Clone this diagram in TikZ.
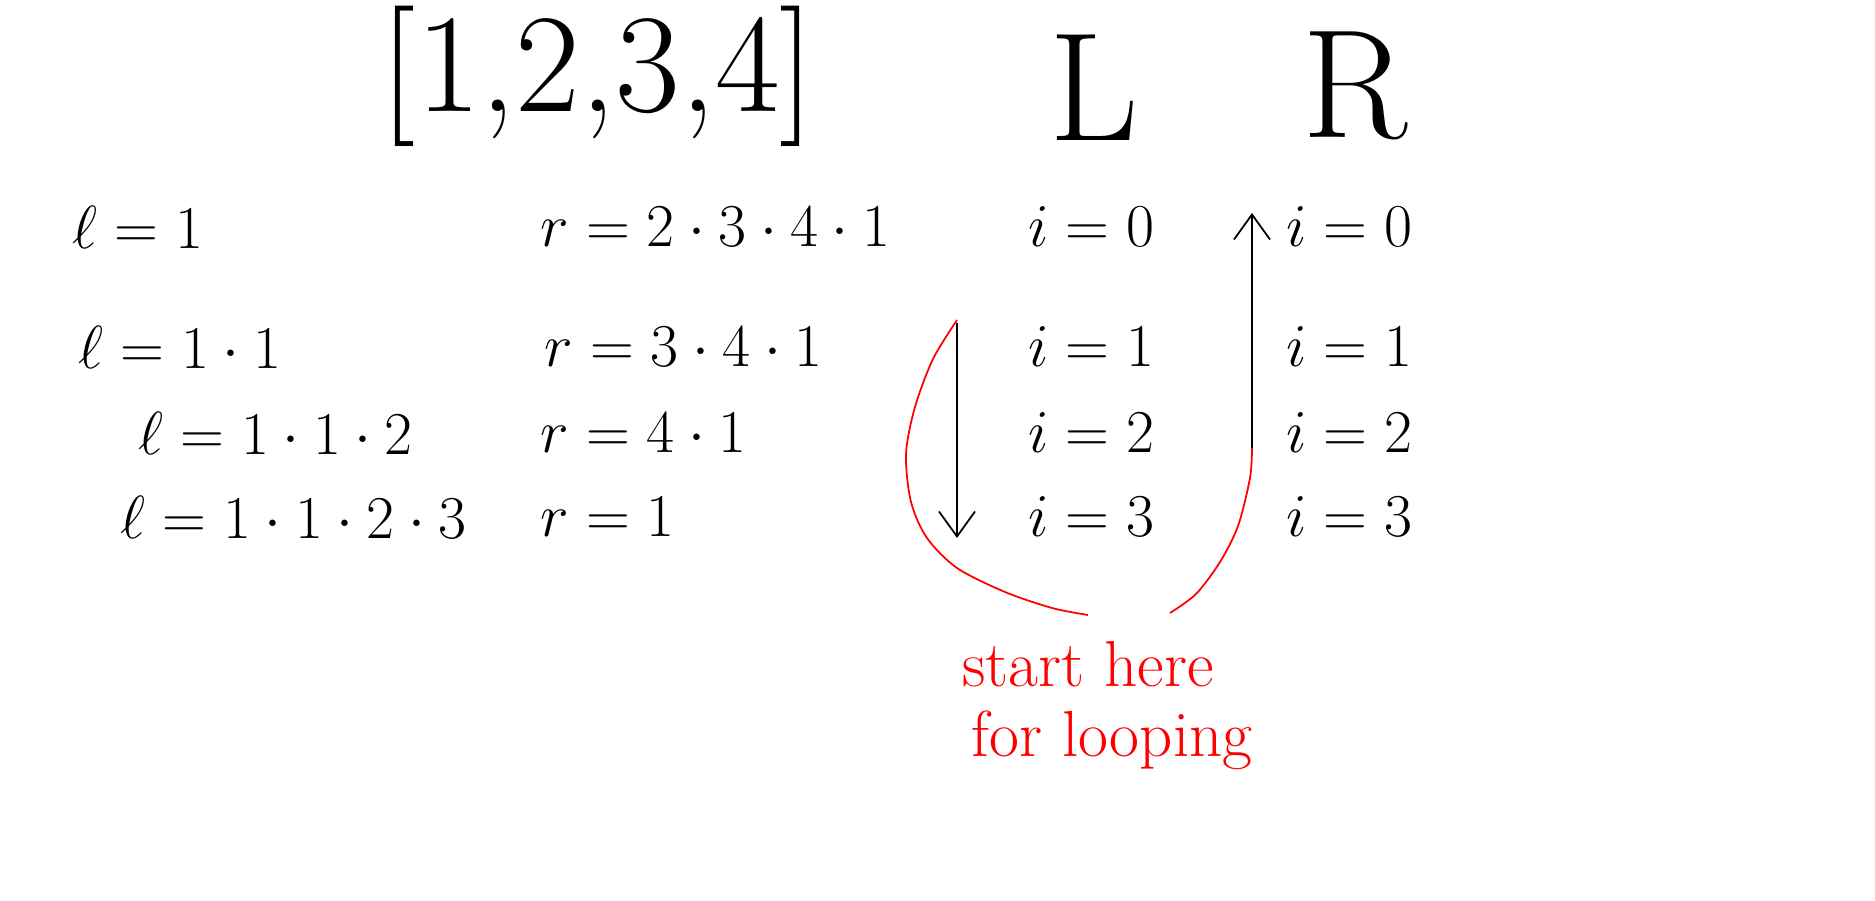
\RequirePackage{fix-cm}
\documentclass[tikz,border=0pt]{standalone}
\usepackage{tikz}
\usetikzlibrary{positioning,arrows.meta}
\usepackage{amsmath}

\begin{document}
\begin{tikzpicture}[
  x=0.01cm,y=-0.01cm,
  every node/.style={inner sep=0pt},
  row/.style={anchor=west,font=\fontsize{17.3}{21}\selectfont},
  head/.style={font=\fontsize{44}{50}\selectfont},
  note/.style={text=red,font=\fontsize{18.5}{22}\selectfont},
  loopline/.style={draw=red,line width=0.5pt},
  pass/.style={line width=0.5pt,-{Straight Barb[length=2.5mm,width=3.6mm]}}
]
\useasboundingbox (0,0) rectangle (1875,901);

% the list and the two columns
\node[head,font=\fontsize{40}{46}\selectfont] (list) at (598,76) {[1,2,3,4]};
\node[head] (colL) at (1094,88) {L};
\node[head] (colR) at (1355,86) {R};

% left products
\node[row] (l0) at (72,227) {$\ell=1$};
\node[row] (l1) at (78,347) {$\ell=1\cdot1$};
\node[row] (l2) at (138,433) {$\ell=1\cdot1\cdot2$};
\node[row] (l3) at (120,517) {$\ell=1\cdot1\cdot2\cdot3$};

% right products
\node[row] (r0) at (540,227) {$r=2\cdot3\cdot4\cdot1$};
\node[row] (r1) at (544,347) {$r=3\cdot4\cdot1$};
\node[row] (r2) at (540,433) {$r=4\cdot1$};
\node[row] (r3) at (540,517) {$r=1$};

% indices under L and R
\foreach \k/\y in {0/227,1/347,2/433,3/517} {
  \node[row] (li\k) at (1028,\y) {$i=\k$};
  \node[row] (ri\k) at (1286,\y) {$i=\k$};
}

% directions of the two passes
\coordinate (dtop) at (957,323);
\coordinate (dbot) at (957,538);
\draw[pass] (dtop) -- (dbot);
\coordinate (ubot) at (1252,448);
\coordinate (utop) at (1252,213);
\draw[pass] (ubot) -- (utop);

% where the loop starts
\draw[loopline] plot[smooth] coordinates {(957,320) (933,359) (915,407) (906,454)
  (911,502) (927,538) (957,568) (1005,592) (1052,608) (1088,615)};
\draw[loopline] plot[smooth] coordinates {(1170,613) (1196,594) (1220,562)
  (1238,526) (1250,478) (1252,448)};

\node[note] (start) at (1088,664) {start here};
\node[note] (looping) at (1112,740) {for looping};

\end{tikzpicture}
\end{document}
